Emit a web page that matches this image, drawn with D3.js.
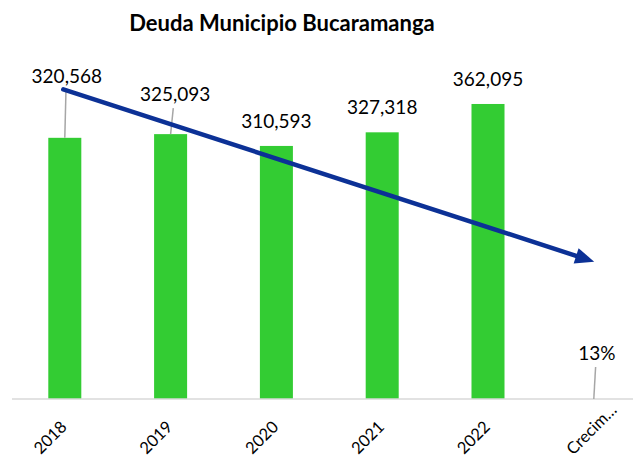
<!DOCTYPE html>
<html>
<head>
<meta charset="utf-8">
<script src="https://cdn.jsdelivr.net/npm/d3@7"></script>
<style>
  body { margin: 0; background: #fff; }
  svg { display: block; font-family: Lato, "Noto Sans", sans-serif; }
</style>
</head>
<body>
<svg id="chart" width="633" height="457"></svg>
<script>
// datos
const categories = ["2018", "2019", "2020", "2021", "2022", "Crecimiento"];
const deuda = [320568, 325093, 310593, 327318, 362095, 0.13];
const labels = ["320,568", "325,093", "310,593", "327,318", "362,095", "13%"];
const yTicks = [0, 400000];

// flecha de tendencia (categoria, valor)
const trendFrom = ["2018", 380000];
const trendTo = ["Crecimiento", 168500];

// etiquetas movidas a mano con linea guia
const movedLabels = { "2018": [2, -37], "2019": [4.5, -15], "Crecimiento": [3, -21] };

const svg = d3.select("#chart");
const W = 633, H = 457;

const x = d3.scaleBand().domain(categories).range([11.9, 646.7])
    .paddingInner(0.688).paddingOuter(0.344);
const y = d3.scaleLinear().domain(d3.extent(yTicks)).range([399, 73.1]);
const cx = c => x(c) + x.bandwidth() / 2;

// titulo
svg.append("text")
    .attr("x", 282).attr("y", 31)
    .attr("text-anchor", "middle")
    .attr("font-weight", "bold")
    .attr("font-size", 22)
    .attr("fill", "#000")
    .text("Deuda Municipio Bucaramanga");

// barras
svg.append("g").selectAll("rect")
    .data(categories)
    .join("rect")
    .attr("x", d => x(d))
    .attr("y", (d, i) => y(deuda[i]))
    .attr("width", x.bandwidth())
    .attr("height", (d, i) => y(0) - y(deuda[i]))
    .attr("fill", "#33cc33");

// eje x
const axis = svg.append("g")
    .attr("transform", `translate(0,${y(0)})`)
    .call(d3.axisBottom(x).tickSize(0).tickPadding(0)
        .tickFormat(d => d.length > 6 ? d.slice(0, 6) + "\u2026" : d));
axis.select(".domain").attr("d", `M12,0H${W}`)
    .attr("stroke", "#d9d9d9").attr("stroke-width", 1.5);
axis.selectAll(".tick text")
    .attr("font-family", "Lato, 'Noto Sans', sans-serif")
    .attr("font-size", 16.5)
    .attr("fill", "#000")
    .attr("text-anchor", "end")
    .attr("dy", 0)
    .attr("transform", d => d.length > 6
        ? "translate(24,12) rotate(-45)"
        : "translate(3,29) rotate(-45)");

// lineas guia y etiquetas de datos
const lab = svg.append("g");
categories.forEach((c, i) => {
    const top = y(deuda[i]);
    const s = movedLabels[c] || [0, 0];
    const lx = cx(c) + s[0];
    const ly = top - 18 + s[1];
    if (movedLabels[c]) {
        lab.append("line")
            .attr("x1", cx(c) + s[0] * 0.6).attr("y1", ly + 7)
            .attr("x2", cx(c)).attr("y2", top)
            .attr("stroke", "#a6a6a6").attr("stroke-width", 1.5);
    }
    lab.append("text")
        .attr("x", lx).attr("y", ly)
        .attr("text-anchor", "middle")
        .attr("font-size", 19)
        .attr("fill", "#000")
        .text(labels[i]);
});

// flecha
const x1 = cx(trendFrom[0]) - 1.5, y1 = y(trendFrom[1]);
const x2 = cx(trendTo[0]) + 0.4, y2 = y(trendTo[1]);
const ang = Math.atan2(y2 - y1, x2 - x1);
const headL = 19, headW = 8;
const bx = x2 - headL * Math.cos(ang), by = y2 - headL * Math.sin(ang);
svg.append("line")
    .attr("x1", x1).attr("y1", y1).attr("x2", bx).attr("y2", by)
    .attr("stroke", "#0c3196").attr("stroke-width", 4.5)
    .attr("stroke-linecap", "round");
const px = -Math.sin(ang), py = Math.cos(ang);
svg.append("path")
    .attr("d", d3.line()([
        [x2, y2],
        [bx + px * headW, by + py * headW],
        [bx - px * headW, by - py * headW]
    ]) + "Z")
    .attr("fill", "#0c3196");
</script>
</body>
</html>
